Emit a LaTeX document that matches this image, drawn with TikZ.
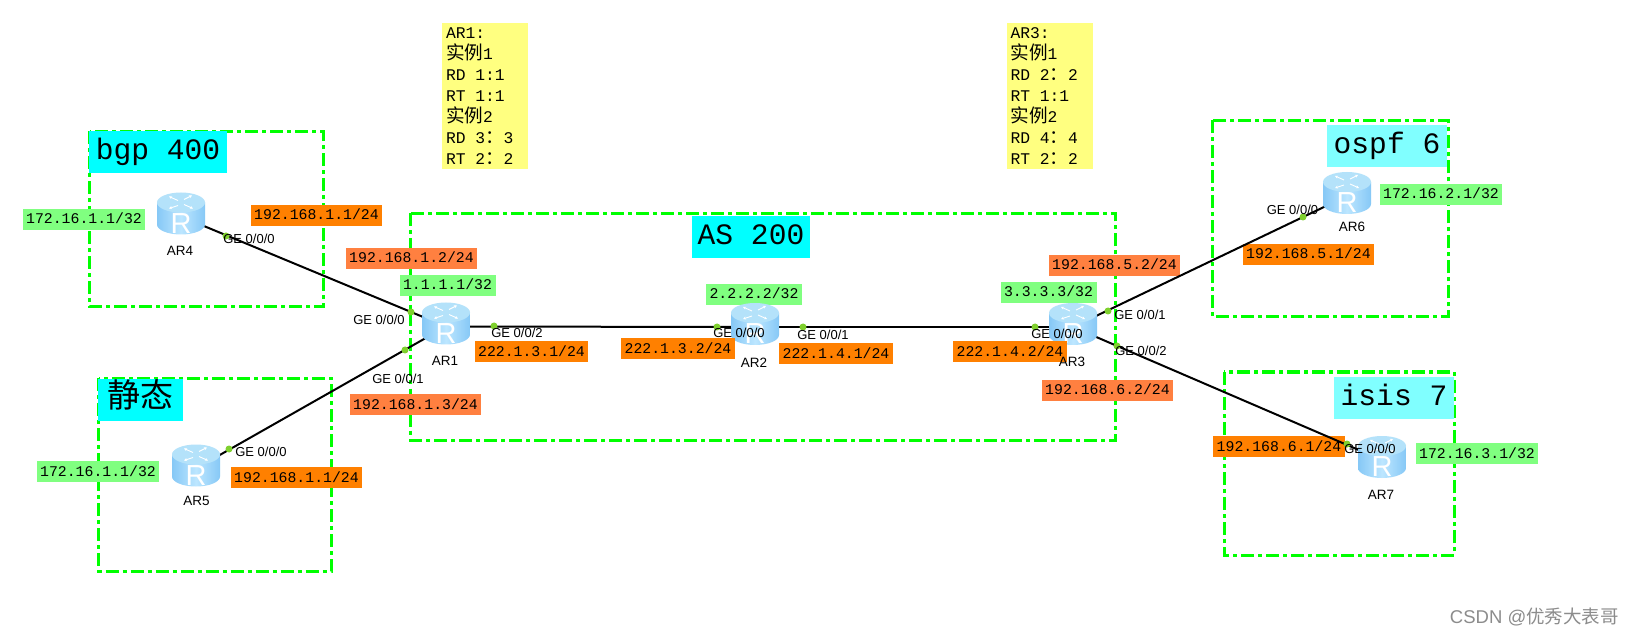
\documentclass[tikz,border=0pt]{standalone}
\usepackage{fontspec}
\setmainfont{Liberation Sans}
\newfontfamily\monof{Liberation Mono}
\newfontfamily\cjk{Noto Sans CJK SC}
\usetikzlibrary{arrows.meta}
\definecolor{zonegreen}{HTML}{00FF00}
\definecolor{addrgreen}{HTML}{80FF80}
\definecolor{addrorange}{HTML}{FF8000}
\definecolor{addrcoral}{HTML}{FF8040}
\definecolor{titlecyan}{HTML}{00FFFF}
\definecolor{titlepale}{HTML}{80FFFF}
\definecolor{noteyellow}{HTML}{FFFF80}
\definecolor{dotgreen}{HTML}{7FD02E}
\definecolor{routeredge}{HTML}{86C8F6}
\definecolor{routermid}{HTML}{BCE6FF}
\definecolor{routertop}{HTML}{B4E2FA}
\newcommand{\zh}[1]{{\cjk\fontsize{18.6}{21}\selectfont #1}}
\tikzset{
  zone/.style={draw=zonegreen,line width=3pt,dash pattern=on 13pt off 4pt on 4pt off 4pt},
  addr/.style={font=\monof\fontsize{14.83}{18}\selectfont,inner xsep=3.5pt,inner ysep=0pt,minimum height=21pt,text height=11pt,text depth=2pt},
  lo/.style={addr,fill=addrorange},
  lc/.style={addr,fill=addrcoral},
  lg/.style={addr,fill=addrgreen},
  title/.style={font=\monof\fontsize{29.6}{34}\selectfont,inner sep=0pt,minimum height=42pt,text height=22pt,text depth=7pt},
  note/.style={fill=noteyellow,font=\monof\fontsize{16.3}{21}\selectfont,align=left,inner xsep=4pt,inner ysep=0pt,minimum height=146pt,text width=78pt},
  iface/.style={font=\fontsize{13}{15}\selectfont,inner sep=0pt,text=black},
  devname/.style={font=\fontsize{13.5}{15}\selectfont,inner sep=0pt,text=black},
  routerbox/.style={minimum width=48pt,minimum height=42pt,inner sep=0pt},
  link/.style={draw=black,line width=2pt},
  portdot/.style={circle,fill=dotgreen,minimum size=7pt,inner sep=0pt},
  topglyph/.style={draw=white,line width=.9pt,-{Stealth[length=3pt,width=3pt]}},
}
\newcommand{\routerart}[1]{%
  \begin{scope}[shift={(#1)}]
    \shade[left color=routeredge,right color=routeredge,middle color=routermid]
      (-24,-14) -- (-24,8) arc[start angle=180,end angle=0,x radius=24,y radius=10] -- (24,-14) -- cycle;
    \fill[routertop] (0,-14) ellipse[x radius=24,y radius=10];
    \draw[topglyph] (-3,-16) -- (-12,-20);
    \draw[topglyph] (3,-12) -- (12,-8);
    \draw[topglyph] (3,-17) -- (11,-21);
    \draw[topglyph] (-3,-11) -- (-12,-8);
    \node[inner sep=0pt,text=white,font=\fontsize{29}{30}\selectfont] at (0,7) {R};
  \end{scope}}
\begin{document}
\begin{tikzpicture}[x=1pt,y=-1pt]
\path[use as bounding box,fill=white] (0,0) rectangle (1631,636);
% zones
\draw[zone] (89.5,131.5) rectangle (323,307);
\draw[zone] (98.5,378) rectangle (331,571);
\draw[zone] (410.5,213.5) rectangle (1115.5,440);
\draw[zone] (1212,120.5) rectangle (1448,316.5);
\draw[zone] (1224,372) rectangle (1454,555);
% titles
\node[title,fill=titlecyan,minimum width=138pt] (tbgp) at (158,152) {bgp 400};
\node[title,fill=titlecyan,minimum width=85pt] (tstatic) at (140.5,399.5) {\cjk\fontsize{33}{36}\selectfont 静态};
\node[title,fill=titlecyan,minimum width=118pt] (tas) at (751,237.5) {AS 200};
\node[title,fill=titlepale,minimum width=120pt] (tospf) at (1387,146) {ospf 6};
\node[title,fill=titlepale,minimum width=120pt] (tisis) at (1394,397.5) {isis 7};
% notes
\node[note] (noteone) at (485,96) {\spaceskip=0pt AR1:\\\zh{实例}1\\RD 1:1\\RT 1:1\\\zh{实例}2\\RD 3\zh{：}3\\RT 2\zh{：}2};
\node[note] (notetwo) at (1049.5,96) {\spaceskip=0pt AR3:\\\zh{实例}1\\RD 2\zh{：}2\\RT 1:1\\\zh{实例}2\\RD 4\zh{：}4\\RT 2\zh{：}2};
% routers (anchors only; drawn below)
\node[routerbox] (ar1) at (446,326.5) {};
\node[routerbox] (ar2) at (755,327) {};
\node[routerbox] (ar3) at (1073,327) {};
\node[routerbox] (ar4) at (181,216.5) {};
\node[routerbox] (ar5) at (196,468.5) {};
\node[routerbox] (ar6) at (1347,196) {};
\node[routerbox] (ar7) at (1382,460) {};
% addresses
\node[lg] (a1) at (84,219.5) {172.16.1.1/32};
\node[lo] (a2) at (316.5,215.5) {192.168.1.1/24};
\node[lc] (a3) at (411.5,258.5) {192.168.1.2/24};
\node[lg] (a4) at (447.5,285.5) {1.1.1.1/32};
\node[lo] (a5) at (531.5,351.5) {222.1.3.1/24};
\node[lc] (a6) at (415.5,404.5) {192.168.1.3/24};
\node[lg] (a7) at (98,471.5) {172.16.1.1/32};
\node[lo] (a8) at (296.5,477.5) {192.168.1.1/24};
\node[lg] (a10) at (754,294.5) {2.2.2.2/32};
\node[lo] (a11) at (836,354) {222.1.4.1/24};
\node[lg] (a13) at (1048.5,292.5) {3.3.3.3/32};
\node[lc] (a14) at (1114.5,265.5) {192.168.5.2/24};
\node[lc] (a15) at (1107.5,390.5) {192.168.6.2/24};
\node[lo] (a16) at (1308.5,254.5) {192.168.5.1/24};
\node[lg] (a17) at (1441,194.5) {172.16.2.1/32};
\node[lo] (a18) at (1279,446.5) {192.168.6.1/24};
\node[lg] (a19) at (1477,453.5) {172.16.3.1/32};
% links
\draw[link] (ar4.center) -- (ar1.center);
\draw[link] (ar5.center) -- (ar1.center);
\draw[link] (ar1.center) -- (ar2.center);
\draw[link] (ar2.center) -- (ar3.center);
\draw[link] (ar3.center) -- (ar6.center);
\draw[link] (ar3.center) -- (ar7.center);
% port dots
\node[portdot] (p1) at (226,236) {};
\node[portdot] (p2) at (411,312) {};
\node[portdot] (p3) at (405,350) {};
\node[portdot] (p4) at (229,449) {};
\node[portdot] (p5) at (494,326) {};
\node[portdot] (p6) at (717,327) {};
\node[portdot] (p7) at (803,327) {};
\node[portdot] (p8) at (1035,327) {};
\node[portdot] (p9) at (1108,311) {};
\node[portdot] (p10) at (1117,346) {};
\node[portdot] (p11) at (1303,217) {};
\node[portdot] (p12) at (1347,444) {};
% router art
\routerart{ar1.center}\routerart{ar2.center}\routerart{ar3.center}
\routerart{ar4.center}\routerart{ar5.center}\routerart{ar6.center}\routerart{ar7.center}
% labels that lie over a router
\node[lo] (a9) at (678,348.5) {222.1.3.2/24};
\node[lo] (a12) at (1010,351.5) {222.1.4.2/24};
% interface labels
\node[iface] (i1) at (249,239) {GE 0/0/0};
\node[iface] (i2) at (379,320) {GE 0/0/0};
\node[iface] (i3) at (398,379) {GE 0/0/1};
\node[iface] (i4) at (261,452) {GE 0/0/0};
\node[iface] (i5) at (517,333) {GE 0/0/2};
\node[iface] (i6) at (739,333) {GE 0/0/0};
\node[iface] (i7) at (823,335) {GE 0/0/1};
\node[iface] (i8) at (1057,334) {GE 0/0/0};
\node[iface] (i9) at (1140,315) {GE 0/0/1};
\node[iface] (i10) at (1141,351) {GE 0/0/2};
\node[iface] (i11) at (1292.5,210) {GE 0/0/0};
\node[iface] (i12) at (1370,449) {GE 0/0/0};
% device names
\node[devname] (n1) at (445,361) {AR1};
\node[devname] (n2) at (754,363) {AR2};
\node[devname] (n3) at (1072,362) {AR3};
\node[devname] (n4) at (180,251) {AR4};
\node[devname] (n5) at (196.5,501) {AR5};
\node[devname] (n6) at (1352,227) {AR6};
\node[devname] (n7) at (1381,495) {AR7};
% watermark
\node[inner sep=0pt,text=black!45,font=\fontsize{18.5}{20}\selectfont,anchor=east] (wm) at (1619,617) {CSDN @{\cjk 优秀大表哥}};
\end{tikzpicture}
\end{document}
